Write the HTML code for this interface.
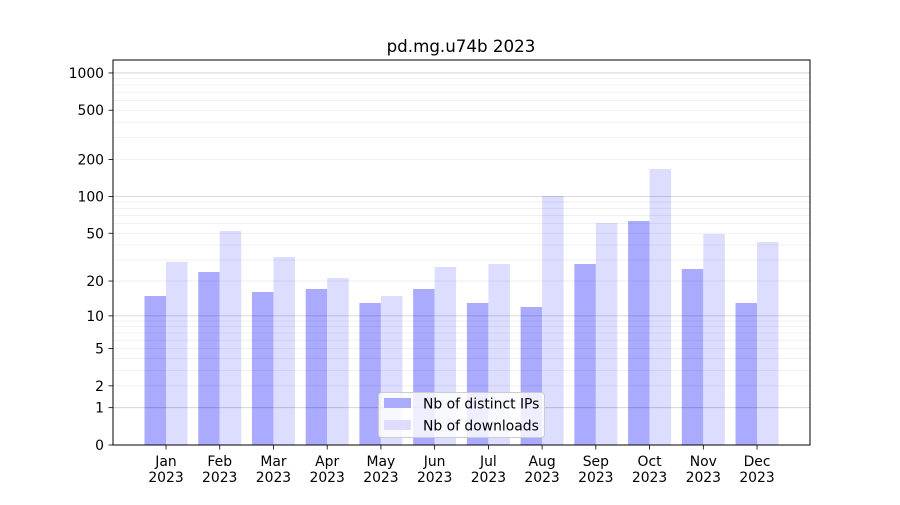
<!DOCTYPE html>
<html><head><meta charset="utf-8"><style>
html,body{margin:0;padding:0;background:#fff;}
svg text{font-family:"DejaVu Sans","Liberation Sans",sans-serif;fill:#000;}
</style></head><body>
<svg id="s" width="900" height="500" xmlns="http://www.w3.org/2000/svg"></svg>
<script>
const s=document.getElementById('s');let h='';
const Y=v=>445-124*Math.log10(1+v);
const ip=[296,272,292,289,303,289,303,307,264,221,269,303];
const dl=[262,231,257,278,296,267,264,196,223,169,234,242];
const m=['Jan','Feb','Mar','Apr','May','Jun','Jul','Aug','Sep','Oct','Nov','Dec'];
h+='<rect x="0" y="0" width="900" height="500" fill="#fff"/>';
for(let i=0;i<12;i++){const c=166+i*53.73;
h+=`<rect x="${c-21.5}" y="${ip[i]}" width="21.5" height="${445-ip[i]}" fill="#aaaaff"/>`;
h+=`<rect x="${c}" y="${dl[i]}" width="21.5" height="${445-dl[i]}" fill="#ddddff"/>`;
h+=`<line x1="${c}" y1="445" x2="${c}" y2="449.5" stroke="#000" stroke-width="0.8"/>`;
h+=`<text x="${c}" y="466" font-size="13.9" text-anchor="middle">${m[i]}</text><text x="${c}" y="482" font-size="13.9" text-anchor="middle">2023</text>`;}
for(const d of [1,10,100]){for(let k=2;k<=9;k++){const y=Y(k*d);h+=`<line x1="113" x2="810" y1="${y}" y2="${y}" stroke="#000" stroke-opacity="0.07" stroke-width="0.8"/>`;}}
for(const v of [1,10,100,1000]){const y=Y(v);h+=`<line x1="113" x2="810" y1="${y}" y2="${y}" stroke="#000" stroke-opacity="0.2" stroke-width="0.8"/>`;}
for(const v of [0,1,2,5,10,20,50,100,200,500,1000]){const y=Y(v);
h+=`<line x1="108.5" x2="113" y1="${y}" y2="${y}" stroke="#000" stroke-width="0.8"/><text x="104" y="${y+5}" font-size="13.9" text-anchor="end">${v}</text>`;}
h+='<rect x="113" y="60" width="697" height="385" fill="none" stroke="#000" stroke-width="1"/>';
h+='<text x="461" y="52" font-size="16.7" text-anchor="middle">pd.mg.u74b 2023</text>';
h+='<rect x="378.5" y="392.5" width="166" height="45" rx="3" fill="#fff" fill-opacity="0.8" stroke="#ccc" stroke-width="1"/>';
h+='<rect x="384" y="398" width="27" height="10" fill="#aaaaff"/><text x="423" y="408.5" font-size="13.9">Nb of distinct IPs</text>';
h+='<rect x="384" y="420" width="27" height="10" fill="#ddddff"/><text x="423" y="430.5" font-size="13.9">Nb of downloads</text>';
s.innerHTML=h;
</script>
</body></html>
